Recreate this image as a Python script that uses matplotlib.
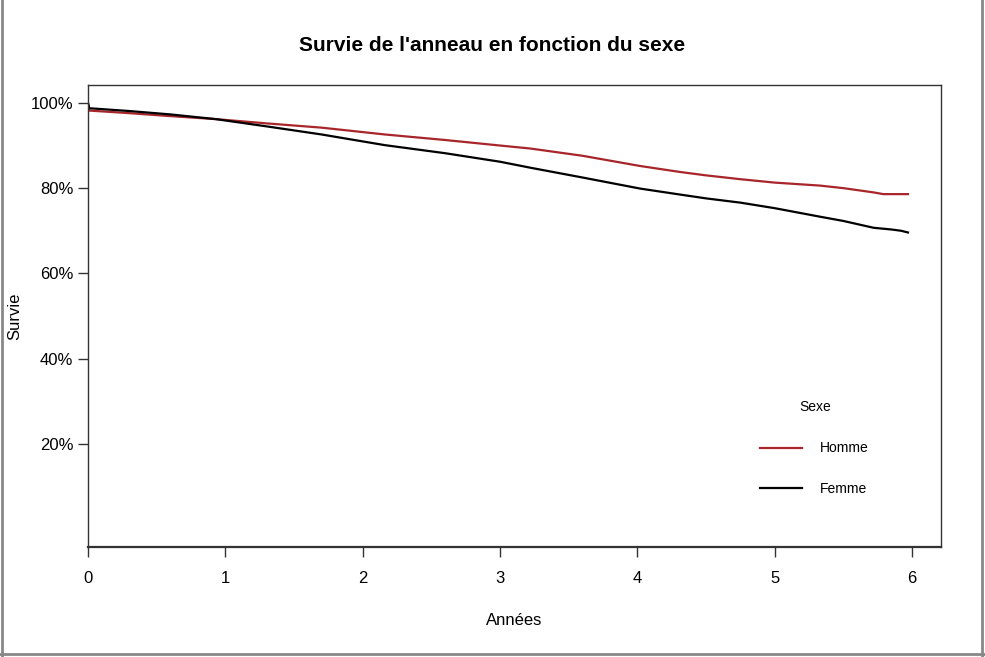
import matplotlib.pyplot as plt
from matplotlib.lines import Line2D
from matplotlib.ticker import FuncFormatter

plt.rcParams['font.family'] = ['Liberation Sans', 'DejaVu Sans']

# Courbes de survie (années, % survie)
t_homme = [0, 0.01, 0.3, 0.6, 0.93, 1.3, 1.7, 2.16, 2.6, 3.0, 3.22, 3.6,
           4.02, 4.31, 4.5, 4.75, 5.0, 5.33, 5.5, 5.72, 5.79, 5.97]
s_homme = [100, 98.2, 97.6, 96.9, 96.2, 95.2, 94.2, 92.6, 91.3, 90.0, 89.3, 87.6,
           85.2, 83.8, 83.0, 82.1, 81.3, 80.6, 80.0, 79.0, 78.6, 78.6]

t_femme = [0, 0.01, 0.3, 0.6, 0.93, 1.3, 1.7, 2.16, 2.6, 3.0, 3.22, 3.6,
           4.02, 4.31, 4.5, 4.75, 5.0, 5.33, 5.5, 5.72, 5.85, 5.92, 5.97]
s_femme = [100, 98.75, 98.1, 97.3, 96.2, 94.5, 92.6, 90.1, 88.2, 86.2, 84.8, 82.5,
           79.9, 78.5, 77.6, 76.6, 75.3, 73.3, 72.3, 70.7, 70.3, 70.0, 69.6]

x_ticks = [0, 1, 2, 3, 4, 5, 6]
y_ticks = [20, 40, 60, 80, 100]

fig = plt.figure(figsize=(9.85, 6.57), dpi=100)
ax = fig.add_axes([0.0893, 0.1674, 0.866, 0.7032])

ax.plot(t_homme, s_homme, color='#A8262B', lw=1.6, label='Homme')
ax.plot(t_femme, s_femme, color='black', lw=1.6, label='Femme')

ax.set_xlim(0, 6.21)
ax.set_ylim(-4.2, 104.2)
ax.set_xticks(x_ticks)
ax.set_yticks(y_ticks)
ax.yaxis.set_major_formatter(FuncFormatter(lambda v, p: f'{v:.0f}%'))
ax.tick_params(direction='out', length=7, width=1, colors='#333333',
               labelsize=12, labelcolor='black')
ax.tick_params(axis='x', pad=10)
for s in ax.spines.values():
    s.set_color('#333333')
    s.set_linewidth(1)
ax.spines['bottom'].set_linewidth(1.6)

ax.set_xlabel('Années', fontsize=12, labelpad=20)
ax.set_ylabel('Survie', fontsize=12, labelpad=6)
fig.text(0.5, 0.931, "Survie de l'anneau en fonction du sexe",
         ha='center', va='center', fontsize=15, fontweight='bold')

leg = ax.legend(loc='center', bbox_to_anchor=(0.852, 0.215), frameon=False,
                title='Sexe', fontsize=10, title_fontsize=10,
                handlelength=3.0, handletextpad=1.3, labelspacing=1.9)
leg._legend_box.sep = 20

# cadre extérieur gris
for xs, ys in [([0.002, 0.002], [0, 1]), ([0.997, 0.997], [0, 1]),
               ([0, 1], [0.004, 0.004])]:
    fig.add_artist(Line2D(xs, ys, color='#888888', lw=2, transform=fig.transFigure))

fig.savefig('out.png', dpi=100)
